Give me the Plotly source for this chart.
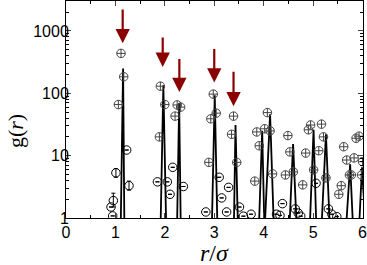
import math
import plotly.graph_objects as go

# ---- data ----
spike_left = [1.11, 1.917, 2.25, 2.955, 3.40, 3.91, 4.03, 4.53, 4.94, 5.18, 5.68, 5.94]
spike_peak = [1.155, 1.97, 2.29, 3.01, 3.43, 3.97, 4.13, 4.595, 5.01, 5.26, 5.75, 5.99]
spike_right = [1.18, 2.024, 2.32, 3.06, 3.475, 4.01, 4.20, 4.66, 5.06, 5.33, 5.80, 6.05]
spike_height = [250, 135, 69, 93, 31, 25, 46, 15.4, 26, 22, 7.3, 6.5]

cross_x = [1.113, 1.168, 1.06, 1.91, 2.0, 1.89, 2.207, 2.25, 2.32, 2.98, 2.93, 3.04, 2.89,
           3.39, 3.35, 3.455, 3.82, 3.86, 3.91, 4.02, 4.075, 4.13, 4.18, 4.44, 4.49, 4.53,
           4.60, 4.79, 4.85, 4.905, 4.95, 5.01, 5.115, 5.17, 5.21, 5.26, 5.52, 5.57, 5.62,
           5.68, 5.735, 5.775, 5.83, 5.87, 5.93, 5.98, 6.0]
cross_y = [436, 184, 66, 130, 66, 20, 43, 65, 60, 97, 39, 48, 7.8,
           43, 22, 7.8, 3.9, 24, 14.4, 27, 49, 25, 5.1, 4.9, 21, 11.5,
           5.5, 3.4, 11, 26, 31, 5.9, 12, 32, 20, 4.4, 2.4, 3.3, 13.9,
           8.5, 4.9, 4.9, 9.2, 19, 20.5, 4.9, 8]

open_x = [1.228, 1.01, 1.275, 0.958, 0.911, 0.945, 1.85, 2.05, 2.105, 2.16, 2.375,
          3.10, 3.15, 2.83, 3.25, 3.29, 3.51, 3.59, 3.745, 4.26, 4.33, 4.38,
          4.64, 4.70, 4.75, 5.06, 5.31, 5.38, 5.48]
open_y = [12.3, 5.3, 3.3, 1.9, 1.5, 1.08, 3.8, 3.8, 2.4, 6.5, 3.2,
          4.5, 2.1, 1.25, 1.25, 3.1, 1.5, 1.07, 1.15, 1.15, 1.1, 1.7,
          1.4, 1.2, 1.07, 3.6, 1.4, 1.15, 1.05]
open_err_up = [0, 0.9, 0.6, 0.6, 0, 0, 0, 0, 0, 0, 0,
               0, 0, 0, 0, 0, 0, 0, 0, 0, 0, 0,
               0, 0, 0, 0, 0, 0, 0]
open_err_down = [0, 0.8, 0.5, 0.4, 0, 0, 0, 0, 0, 0, 0,
                 0, 0, 0, 0, 0, 0, 0, 0, 0, 0, 0,
                 0, 0, 0, 0, 0, 0, 0]

arrow_x = [1.147, 1.957, 2.294, 3.0, 3.39]
arrow_tip = [634, 265, 105, 149, 62]
arrow_top = [2340, 830, 376, 543, 235]

x_ticks = [0, 1, 2, 3, 4, 5, 6]
y_ticks = [1, 10, 100, 1000]
y_tick_text = ["1", "10", "100", "1000"]

# ---- build ----
line_x, line_y = [], []
for l, p, r, h in zip(spike_left, spike_peak, spike_right, spike_height):
    line_x += [l, p, r, None]
    line_y += [1, h, 1, None]

fig = go.Figure()
fig.add_trace(go.Scatter(x=line_x, y=line_y, mode="lines",
                         line=dict(color="black", width=1.8), connectgaps=False,
                         showlegend=False, hoverinfo="skip"))
fig.add_trace(go.Scatter(x=open_x, y=open_y, mode="markers",
                         marker=dict(symbol="circle-open", size=8.5, color="black",
                                     line=dict(width=1, color="black")),
                         error_y=dict(type="data", array=open_err_up, arrayminus=open_err_down,
                                      color="black", thickness=1, width=2),
                         showlegend=False))
fig.add_trace(go.Scatter(x=cross_x, y=cross_y, mode="markers",
                         marker=dict(symbol="circle-cross-open", size=8.5, color="#444444",
                                     line=dict(width=1, color="#444444")),
                         showlegend=False))

for ax_, tip, top in zip(arrow_x, arrow_tip, arrow_top):
    fig.add_annotation(x=ax_, y=math.log10(tip), ax=ax_, ay=math.log10(top),
                       xref="x", yref="y", axref="x", ayref="y", text="",
                       showarrow=True, arrowhead=2, arrowsize=1.3, arrowwidth=2.2,
                       arrowcolor="#8B0000")

# axis titles
fig.add_annotation(text="<i>r</i>/<i>σ</i>", x=0.5, y=-0.09, xref="paper", yref="paper",
                   xanchor="center", yanchor="top", showarrow=False,
                   font=dict(family="Liberation Serif, Times New Roman", size=24))
fig.add_annotation(text="g(<i>r</i>)", x=-0.172, y=0.40, xref="paper", yref="paper",
                   xanchor="center", yanchor="middle", showarrow=False, textangle=-90,
                   font=dict(family="Liberation Serif, Times New Roman", size=22))

minor_y = [m * d for d in [1, 10, 100, 1000] for m in range(2, 10)]

fig.update_layout(
    width=367, height=265,
    margin=dict(l=66, r=4, t=1, b=47),
    plot_bgcolor="white", paper_bgcolor="white",
    font=dict(family="Liberation Sans, Arial", size=16, color="black"),
    xaxis=dict(range=[0, 6.01], tickvals=x_ticks, ticks="inside", ticklen=5,
               showgrid=False, zeroline=False, showline=True, linecolor="black",
               linewidth=1, mirror="allticks", automargin=False,
               ticklabeloverflow="allow",
               minor=dict(ticks="inside", dtick=0.5, ticklen=3, tickcolor="black")),
    yaxis=dict(type="log", range=[0, 3.48], tickvals=y_ticks, ticktext=y_tick_text,
               ticks="inside", ticklen=5, showgrid=False, zeroline=False,
               showline=True, linecolor="black", linewidth=1, mirror="allticks",
               automargin=False, ticklabelstandoff=-7,
               minor=dict(ticks="inside", tickvals=minor_y, ticklen=3, tickcolor="black")),
)

fig.write_html("out.html", config={"displayModeBar": False},
               post_script="document.body.style.margin='0';document.body.style.overflow='hidden';")
